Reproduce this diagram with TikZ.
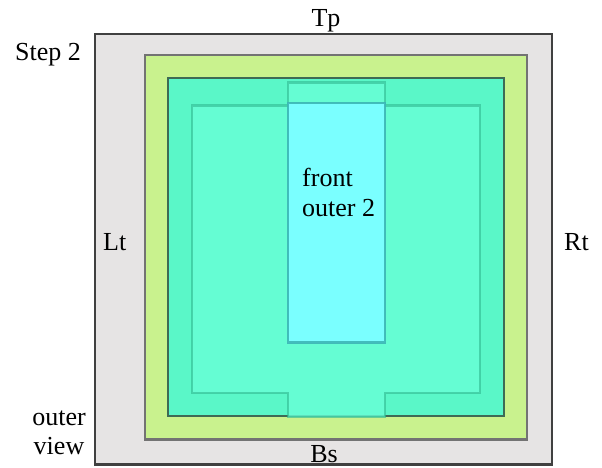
\documentclass[tikz,border=0pt]{standalone}
\usepackage{fontspec}
\setmainfont{Liberation Serif}
\definecolor{outerfill}{HTML}{E6E4E4}
\definecolor{outerline}{HTML}{404040}
\definecolor{limefill}{HTML}{C9F28E}
\definecolor{limeline}{HTML}{737373}
\definecolor{tealfill}{HTML}{5AF7C8}
\definecolor{tealline}{HTML}{3E6B55}
\definecolor{innerfill}{HTML}{68FFD6}
\definecolor{innerline}{HTML}{30B890}
\definecolor{cyanfill}{HTML}{7AFFFF}
\definecolor{cyanline}{HTML}{3CB6B6}
\tikzset{
  lbl/.style={inner sep=0pt, font=\fontsize{26}{30}\selectfont, text=black},
  outerbox/.style={fill=outerfill, draw=outerline, line width=2.6pt},
  limebox/.style={fill=limefill, draw=limeline, line width=2.3pt},
  tealbox/.style={fill=tealfill, draw=tealline, line width=2.3pt},
  innerbox/.style={fill=innerfill, fill opacity=0.8, draw=innerline, draw opacity=0.6, line width=2.3pt},
  cyanbox/.style={fill=cyanfill, draw=cyanline, draw opacity=0.9, line width=2.3pt},
}
\begin{document}
\begin{tikzpicture}[x=1pt,y=-1pt]
\useasboundingbox (0,0) rectangle (602,468);
\fill[white] (0,0) rectangle (602,468);
\draw[outerbox] (95,34) rectangle (552,464.5);
\draw[limebox] (144.7,55.3) rectangle (527,439.5);
\draw[tealbox] (168,78.3) rectangle (504,416);
\draw[innerbox] (192,105.5) -- (288,105.5) -- (288,82.5) -- (385,82.5) -- (385,105.5)
  -- (480,105.5) -- (480,393) -- (385,393) -- (385,417) -- (288,417) -- (288,393)
  -- (192,393) -- cycle;
\draw[cyanbox] (288,103) rectangle (385,342.5);
\node[lbl, anchor=base] (tp) at (326,27) {Tp};
\node[lbl, anchor=base west] (step) at (15,61) {Step 2};
\node[lbl, anchor=base west] (lt) at (103,250) {Lt};
\node[lbl, anchor=base west] (rt) at (564,250) {Rt};
\node[lbl, anchor=base] (bs) at (324,462) {Bs};
\node[lbl, anchor=base] (outer) at (59,425) {outer};
\node[lbl, anchor=base] (view) at (59,454) {view};
\node[lbl, anchor=base west] (front) at (302,186) {front};
\node[lbl, anchor=base west] (outer2) at (302,216) {outer 2};
\end{tikzpicture}
\end{document}
